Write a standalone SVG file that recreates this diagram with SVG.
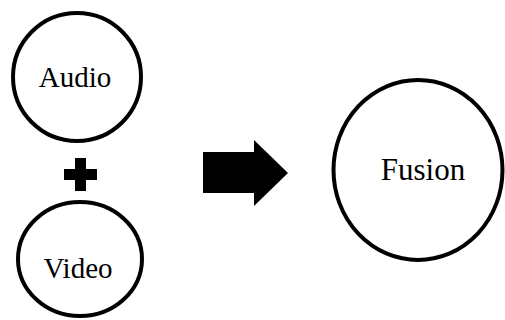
<svg xmlns="http://www.w3.org/2000/svg" width="505" height="320" viewBox="0 0 505 320">
<style>
.node{fill:#fff;stroke:#000;stroke-width:4}
.lbl{font-family:"Liberation Serif","DejaVu Serif",serif;fill:#000;text-anchor:middle}
.sym{fill:#000;stroke:none}
</style>
<rect width="505" height="320" fill="#fff"/>
<g id="audio">
<ellipse class="node" cx="77" cy="77" rx="64" ry="64"/>
<text class="lbl" x="75" y="87" font-size="29">Audio</text>
</g>
<g id="video">
<ellipse class="node" cx="80" cy="259" rx="62" ry="57"/>
<text class="lbl" x="78" y="278" font-size="29">Video</text>
</g>
<g id="fusion">
<ellipse class="node" cx="418" cy="170" rx="84.5" ry="90"/>
<text class="lbl" x="423" y="180" font-size="31">Fusion</text>
</g>
<g id="connectors">
<path class="sym" d="M75,158H86V169H97V180H86V191H75V180H64V169H75Z"/>
<polygon class="sym" points="203,152 254,152 254,140 288,173 254,206 254,193 203,193"/>
</g>
</svg>
